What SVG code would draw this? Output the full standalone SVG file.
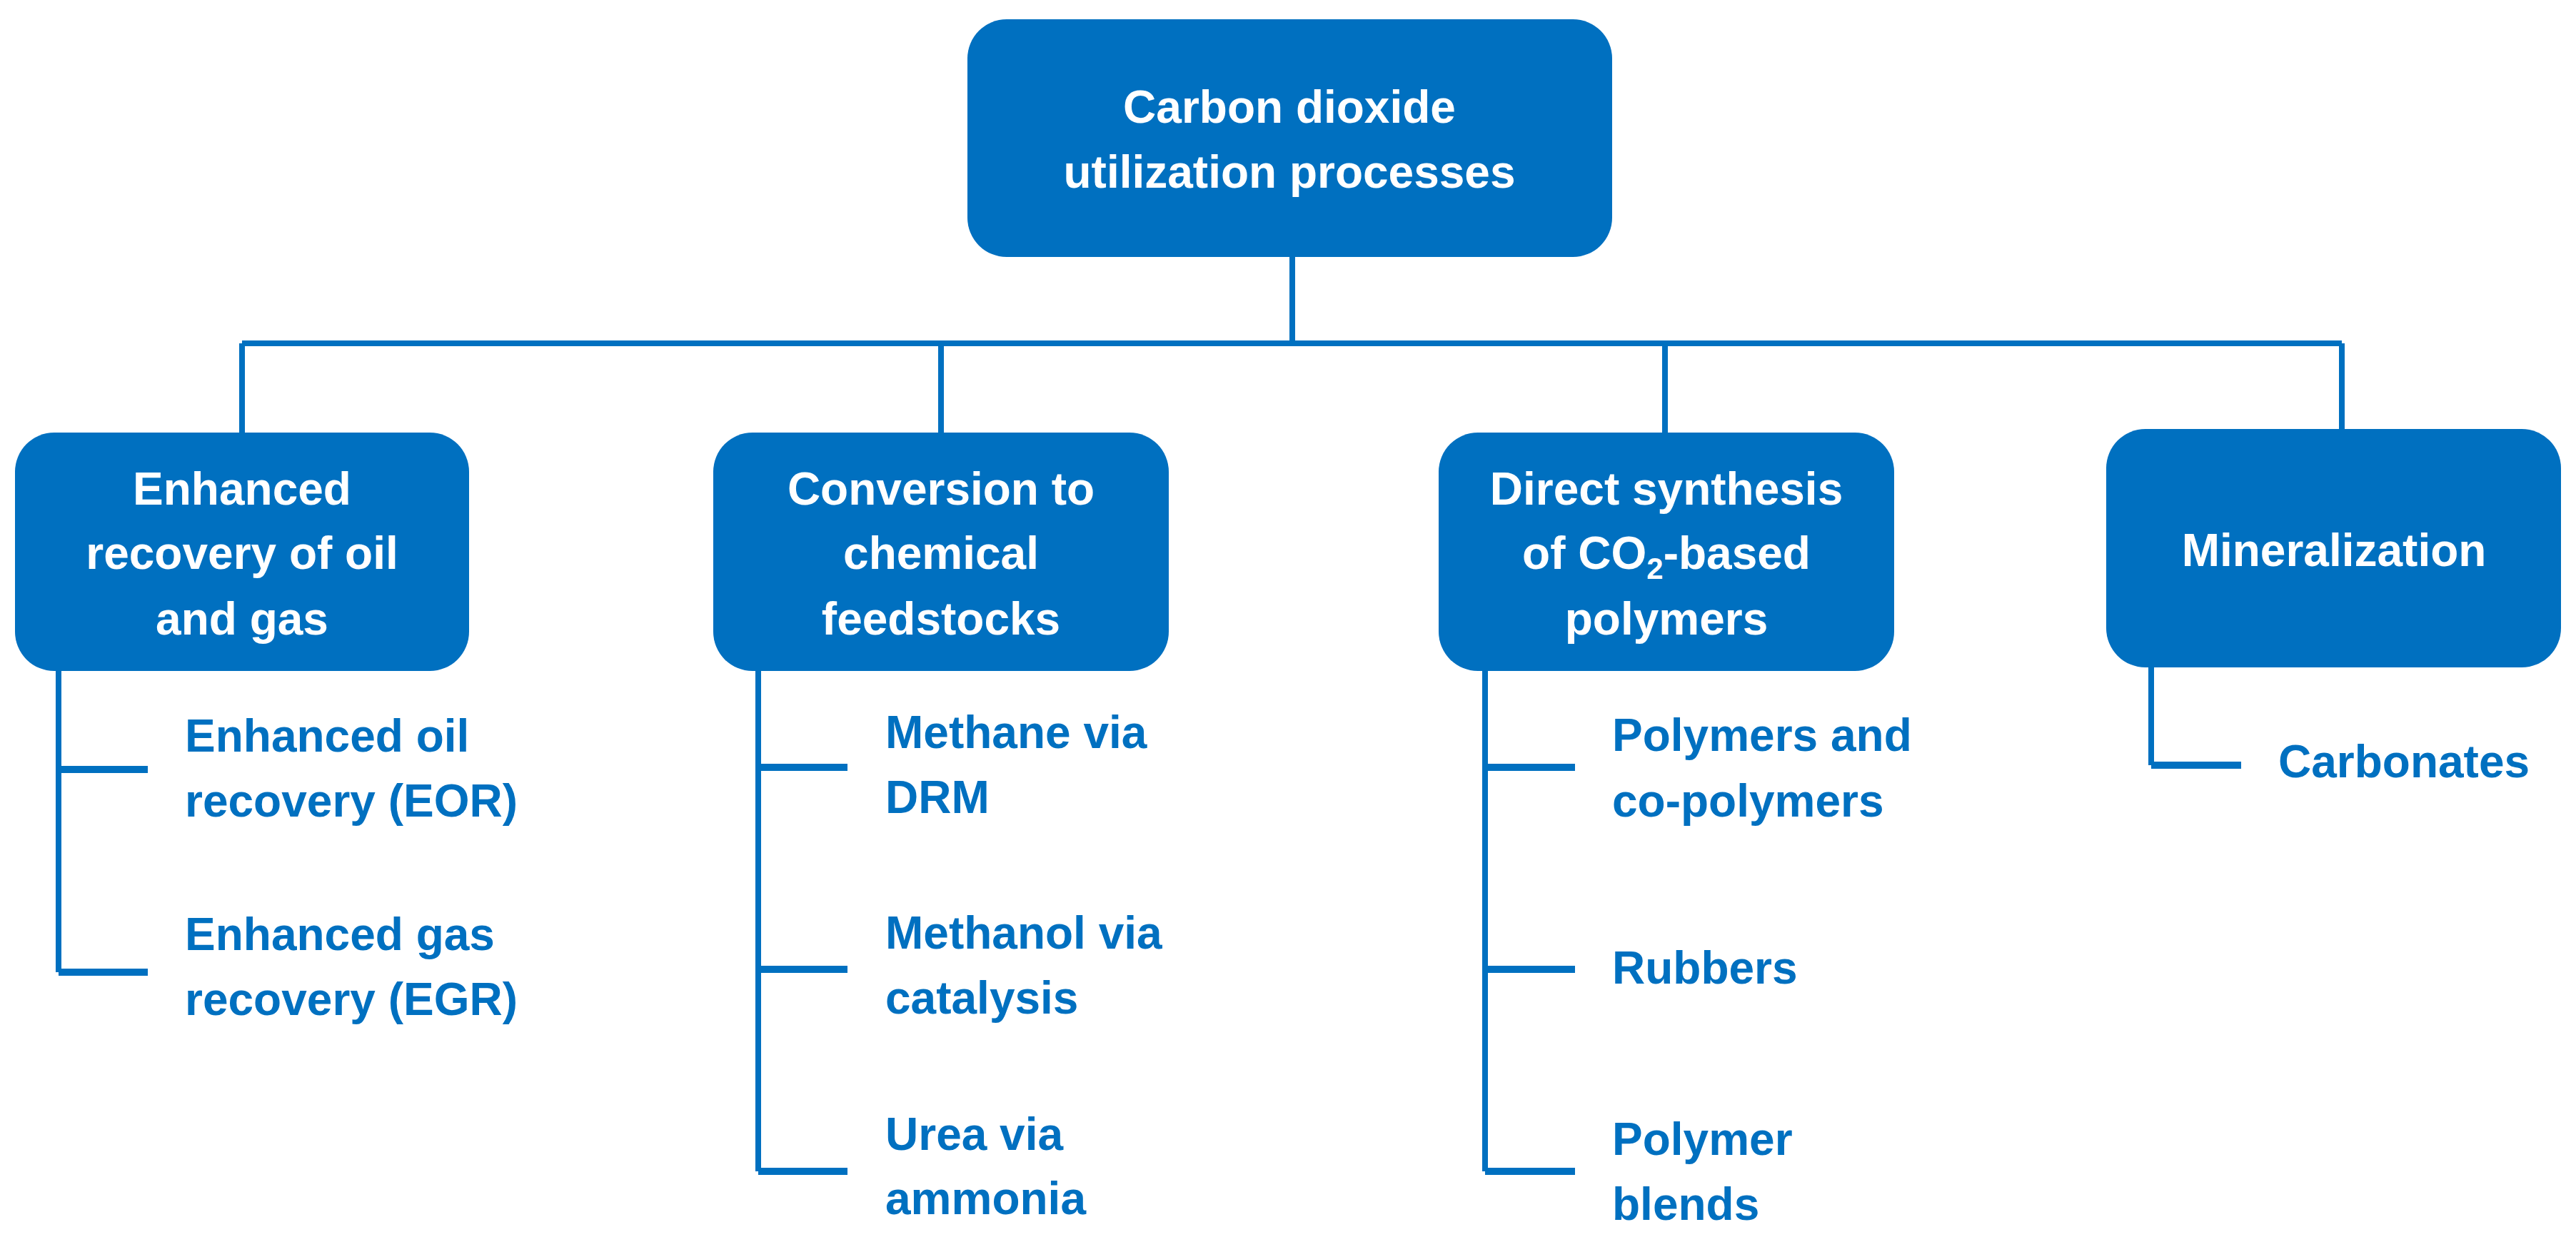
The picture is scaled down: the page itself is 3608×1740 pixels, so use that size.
<svg xmlns="http://www.w3.org/2000/svg" width="3608" height="1740" viewBox="0 0 3608 1740">
<style>
.box{fill:#0070C0}
.t{font-family:"Liberation Sans",Arial,sans-serif;font-weight:bold;font-size:64px;fill:#fff;text-anchor:middle}
.s{font-family:"Liberation Sans",Arial,sans-serif;font-weight:bold;font-size:64px;fill:#0070C0}
.c{stroke:#0070C0;stroke-width:8;fill:none}
.b{stroke:#0070C0;stroke-width:10;fill:none}
</style>
<rect width="3608" height="1740" fill="#fff"/>
<g id="connectors">
<path class="c" d="M1810 360V481M339 481H3280M339 481V606M1318 481V606M2332 481V606M3280 481V601"/>
<path class="c" d="M82 940V1362M1062 940V1641M2080 940V1641M3013 935V1072"/>
<path class="b" d="M82 1078H207M82 1362H207M1062 1075H1187M1062 1358H1187M1062 1641H1187M2080 1075H2206M2080 1358H2206M2080 1641H2206M3013 1072H3139"/>
</g>
<g id="root"><rect class="box" x="1355" y="27" width="903" height="333" rx="55"/>
<text class="t" x="1806" y="172">Carbon dioxide</text><text class="t" x="1806" y="263">utilization processes</text></g>
<g id="n1"><rect class="box" x="21" y="606" width="636" height="334" rx="55"/>
<text class="t" x="339" y="707">Enhanced</text><text class="t" x="339" y="797">recovery of oil</text><text class="t" x="339" y="889">and gas</text></g>
<g id="n2"><rect class="box" x="999" y="606" width="638" height="334" rx="55"/>
<text class="t" x="1318" y="707">Conversion to</text><text class="t" x="1318" y="797">chemical</text><text class="t" x="1318" y="889">feedstocks</text></g>
<g id="n3"><rect class="box" x="2015" y="606" width="638" height="334" rx="55"/>
<text class="t" x="2334" y="707">Direct synthesis</text><text class="t" x="2334" y="797">of CO<tspan font-size="42" dy="14">2</tspan><tspan dy="-14">-based</tspan></text><text class="t" x="2334" y="889">polymers</text></g>
<g id="n4"><rect class="box" x="2950" y="601" width="637" height="334" rx="55"/>
<text class="t" x="3269" y="793">Mineralization</text></g>
<g id="l1"><text class="s" x="259" y="1053">Enhanced oil</text><text class="s" x="259" y="1144">recovery (EOR)</text></g>
<g id="l2"><text class="s" x="259" y="1331">Enhanced gas</text><text class="s" x="259" y="1422">recovery (EGR)</text></g>
<g id="l3"><text class="s" x="1240" y="1048">Methane via</text><text class="s" x="1240" y="1139">DRM</text></g>
<g id="l4"><text class="s" x="1240" y="1329">Methanol via</text><text class="s" x="1240" y="1420">catalysis</text></g>
<g id="l5"><text class="s" x="1240" y="1611">Urea via</text><text class="s" x="1240" y="1701">ammonia</text></g>
<g id="l6"><text class="s" x="2258" y="1052">Polymers and</text><text class="s" x="2258" y="1144">co-polymers</text></g>
<g id="l7"><text class="s" x="2258" y="1378">Rubbers</text></g>
<g id="l8"><text class="s" x="2258" y="1618">Polymer</text><text class="s" x="2258" y="1709">blends</text></g>
<g id="l9"><text class="s" x="3191" y="1089">Carbonates</text></g>
</svg>
